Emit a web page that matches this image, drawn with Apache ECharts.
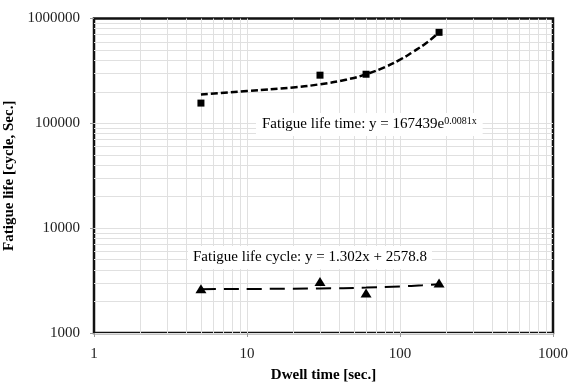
<!DOCTYPE html>
<html><head><meta charset="utf-8">
<script src="https://cdn.jsdelivr.net/npm/echarts@6/dist/echarts.min.js"></script>
<style>html,body{margin:0;padding:0;background:#fff}#c{width:568px;height:383px}</style>
</head><body><div id="c"></div>
<script>
// Data
const dwellTime = [5, 30, 60, 180];
const fatigueLifeTime = [156000, 288000, 294000, 738000];
const fatigueLifeCycle = [2640, 3100, 2410, 3000];
// Trend lines
const timeTrendX = [5, 10, 20, 30, 45, 60, 80, 100, 120, 150, 180];
const timeTrendY = [188000, 203000, 220000, 236000, 262000, 294000, 345000, 405000, 475000, 590000, 738000];
const cycleTrendX = [5, 30, 60, 100, 140, 180];
const cycleTrendY = [2620, 2660, 2710, 2780, 2850, 2920];
// Axis ranges and minor grid values
const xRange = [1, 1000];
const yRange = [1000, 1000000];
const xMinorGrid = [2,3,4,5,6,7,8,9,20,30,40,50,60,70,80,90,200,300,400,500,600,700,800,900];
const yMinorGrid = [2000,3000,4000,5000,6000,7000,8000,9000,20000,30000,40000,50000,60000,70000,80000,90000,200000,300000,400000,500000,600000,700000,800000,900000];
// Texts
const xAxisName = 'Dwell time [sec.]';
const yAxisName = 'Fatigue life [cycle, Sec.]';
const timeEqMain = 'Fatigue life time: y = 167439e';
const timeEqExp = '0.0081x';
const cycleEq = 'Fatigue life cycle: y = 1.302x + 2578.8';

const FONT = 'Liberation Serif';
const GRID = '#e0e0e0';
const zip = (a, b) => a.map((v, i) => [v, b[i]]);

const chart = echarts.init(document.getElementById('c'), null, {renderer: 'canvas'});
chart.setOption({
  animation: false,
  backgroundColor: '#fff',
  grid: {left: 94, right: 15, top: 18.5, bottom: 50, show: true, borderColor: '#111', borderWidth: 2.5,
         backgroundColor: 'transparent', containLabel: false, outerBoundsMode: 'none'},
  xAxis: {
    type: 'log', logBase: 10, min: xRange[0], max: xRange[1],
    name: xAxisName, nameLocation: 'middle', nameGap: 42,
    nameTextStyle: {fontFamily: FONT, fontWeight: 'bold', fontSize: 15, color: '#000', verticalAlign: 'middle'},
    axisLine: {show: false},
    axisTick: {show: true, length: 4, lineStyle: {color: '#999'}},
    axisLabel: {margin: 14, fontFamily: FONT, fontSize: 15, color: '#222', formatter: v => String(Math.round(v))},
    splitLine: {show: true, showMinLine: false, showMaxLine: false, lineStyle: {color: GRID, width: 1}}
  },
  yAxis: {
    type: 'log', logBase: 10, min: yRange[0], max: yRange[1],
    name: yAxisName, nameLocation: 'middle', nameGap: 76, nameRotate: 90,
    nameTextStyle: {fontFamily: FONT, fontWeight: 'bold', fontSize: 15, color: '#000', verticalAlign: 'middle'},
    axisLine: {show: false},
    axisTick: {show: true, length: 4, lineStyle: {color: '#999'}},
    axisLabel: {margin: 14, fontFamily: FONT, fontSize: 15, color: '#222', formatter: v => String(Math.round(v))},
    splitLine: {show: true, showMinLine: false, showMaxLine: false, lineStyle: {color: GRID, width: 1}}
  },
  series: [
    {
      type: 'line', data: [], silent: true, z: 1,
      markLine: {
        silent: true, symbol: 'none', animation: false, z: 1,
        label: {show: false},
        lineStyle: {color: GRID, width: 1, type: 'solid'},
        emphasis: {disabled: true},
        data: xMinorGrid.map(v => ({xAxis: v})).concat(yMinorGrid.map(v => ({yAxis: v})))
      }
    },
    {
      name: 'timeTrend', type: 'line', smooth: true, symbol: 'none', z: 3,
      data: zip(timeTrendX, timeTrendY),
      lineStyle: {color: '#000', width: 2.5, type: [7, 3]}
    },
    {
      name: 'cycleTrend', type: 'line', smooth: true, symbol: 'none', z: 3,
      data: zip(cycleTrendX, cycleTrendY),
      lineStyle: {color: '#000', width: 2, type: [15, 8]}
    },
    {
      name: 'Fatigue life time', type: 'scatter', symbol: 'rect', symbolSize: 7, z: 6,
      data: zip(dwellTime, fatigueLifeTime),
      itemStyle: {color: '#000', opacity: 1}
    },
    {
      name: 'Fatigue life cycle', type: 'scatter', symbol: 'triangle', symbolSize: [11, 9], z: 6,
      data: zip(dwellTime, fatigueLifeCycle),
      itemStyle: {color: '#000', opacity: 1}
    }
  ],
  graphic: [
    {
      type: 'text', left: 256, top: 113, z: 10,
      style: {
        text: '{a|' + timeEqMain + '}{s|' + timeEqExp + '}',
        backgroundColor: '#fff', padding: [3, 6, 3, 6],
        rich: {
          a: {fontFamily: FONT, fontSize: 15, fill: '#000', lineHeight: 17},
          s: {fontFamily: FONT, fontSize: 10, fill: '#000', verticalAlign: 'top', lineHeight: 11}
        }
      }
    },
    {
      type: 'text', left: 188, top: 246, z: 10,
      style: {
        text: cycleEq, fontFamily: FONT, fontSize: 15, fill: '#000',
        backgroundColor: '#fff', padding: [4, 5, 4, 5]
      }
    }
  ]
});
</script>
</body></html>
